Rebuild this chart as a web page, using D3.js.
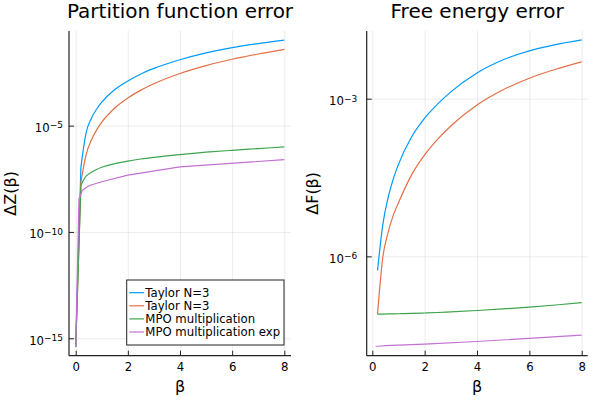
<!DOCTYPE html>
<html>
<head>
<meta charset="utf-8">
<script src="https://cdn.jsdelivr.net/npm/d3@7/dist/d3.min.js"></script>
<style>
  body { margin: 0; background: #fff; }
  text { font-family: "DejaVu Sans", sans-serif; fill: #000; }
</style>
</head>
<body>
<div id="chart"></div>
<script>
var svgWidth = 600;
var svgHeight = 400;

// β values of the Taylor and MPO multiplication runs
var betaGrid = [0, 0.2, 0.4, 0.6, 0.8, 1, 1.5, 2, 2.5, 3, 4, 5, 6, 7, 8];
// β values of the "exp" run (doubling steps)
var betaExp = [0, 0.125, 0.25, 0.5, 1, 2, 4, 8];

// log10 of ΔZ(β)
var dzTaylorA = [-15.4, -6.94, -5.33, -4.66, -4.23, -3.9, -3.3, -2.9, -2.57, -2.31, -1.9, -1.58, -1.33, -1.14, -0.98];
var dzTaylorB = [-15.4, -7.65, -6.36, -5.68, -5.21, -4.84, -4.17, -3.7, -3.33, -3.03, -2.55, -2.18, -1.88, -1.63, -1.41];
var dzMPO = [-15.4, -7.8, -7.38, -7.19, -7.06, -6.96, -6.79, -6.67, -6.57, -6.49, -6.36, -6.25, -6.16, -6.08, -6.0];
var dzMPOExp = [-15.4, -8.45, -8.05, -7.83, -7.64, -7.33, -6.94, -6.6];

// log10 of ΔF(β), nothing at β = 0
var dfTaylorA = [null, -6.27, -5.4, -4.89, -4.53, -4.25, -3.73, -3.37, -3.1, -2.87, -2.51, -2.26, -2.09, -1.97, -1.88];
var dfTaylorB = [null, -7.1, -6.02, -5.55, -5.22, -4.98, -4.45, -4.07, -3.77, -3.52, -3.12, -2.83, -2.61, -2.44, -2.3];
var dfMPO = [null, -7.1, -7.098, -7.096, -7.094, -7.092, -7.086, -7.078, -7.068, -7.056, -7.03, -7.0, -6.965, -6.925, -6.88];
var dfMPOExp = [null, -7.71, -7.71, -7.7, -7.69, -7.67, -7.62, -7.5];

var seriesNames = ["Taylor N=3", "Taylor N=3", "MPO multiplication", "MPO multiplication exp"];
var seriesColors = ["#009af9", "#e26f46", "#3da44d", "#c271d2"];

var betaTicks = [0, 2, 4, 6, 8];
var zTicks = [-15, -10, -5];
var fTicks = [-6, -3];

var svg = d3.select("#chart")
    .append("svg")
    .attr("width", svgWidth)
    .attr("height", svgHeight);

var panels = [
    {
        title: "Partition function error", ylabel: "ΔZ(β)",
        box: {left: 69, right: 291, top: 31, bottom: 355.7},
        xRange: [75.7, 284.3], yLog: [-15.82, -0.55], yTicks: zTicks, tickPad: 6, ylabelX: 16,
        series: [dzTaylorA, dzTaylorB, dzMPO, dzMPOExp], legend: true
    },
    {
        title: "Free energy error", ylabel: "ΔF(β)",
        box: {left: 366.7, right: 587.7, top: 31, bottom: 355.7},
        xRange: [372.3, 581.7], yLog: [-7.89, -1.712], yTicks: fTicks, tickPad: 9.5, ylabelX: 318,
        series: [dfTaylorA, dfTaylorB, dfMPO, dfMPOExp], legend: false
    }
];

panels.forEach(drawPanel);

function drawPanel(p) {
    var box = p.box;
    var xScale = d3.scaleLinear().domain([0, 8]).range(p.xRange);
    var yScale = d3.scaleLog()
        .domain(p.yLog.map(e => Math.pow(10, e)))
        .range([box.bottom, box.top]);
    var yTickValues = p.yTicks.map(e => Math.pow(10, e));

    var g = svg.append("g");

    // grid lines
    var gx = g.append("g")
        .attr("transform", `translate(0, ${box.top})`)
        .call(d3.axisBottom(xScale).tickValues(betaTicks).tickSize(box.bottom - box.top).tickFormat(""));
    var gy = g.append("g")
        .attr("transform", `translate(${box.right}, 0)`)
        .call(d3.axisLeft(yScale).tickValues(yTickValues).tickSize(box.right - box.left).tickFormat(""));
    [gx, gy].forEach(a => {
        a.select(".domain").remove();
        a.selectAll("line").attr("stroke", "#000").attr("stroke-opacity", 0.1).attr("stroke-width", 0.8);
    });

    // spines
    g.append("line")
        .attr("x1", box.left).attr("x2", box.left)
        .attr("y1", box.top).attr("y2", box.bottom)
        .attr("stroke", "#222").attr("stroke-width", 1.2);
    g.append("line")
        .attr("x1", box.left).attr("x2", box.right)
        .attr("y1", box.bottom).attr("y2", box.bottom)
        .attr("stroke", "#222").attr("stroke-width", 1.2);

    // x axis
    var xAxisG = g.append("g")
        .attr("transform", `translate(0, ${box.bottom})`)
        .call(d3.axisBottom(xScale).tickValues(betaTicks).tickSizeInner(-5).tickSizeOuter(0).tickPadding(7));
    xAxisG.select(".domain").remove();
    xAxisG.attr("font-family", null).attr("font-size", 11.7);
    xAxisG.selectAll("line").attr("stroke", "#222");

    // y axis with 10^n labels
    var yAxisG = g.append("g")
        .attr("transform", `translate(${box.left}, 0)`)
        .call(d3.axisLeft(yScale).tickValues(yTickValues).tickSizeInner(-5).tickSizeOuter(0)
            .tickPadding(p.tickPad).tickFormat(""));
    yAxisG.select(".domain").remove();
    yAxisG.attr("font-family", null).attr("font-size", 11.7);
    yAxisG.selectAll("line").attr("stroke", "#222");
    yAxisG.selectAll(".tick text").each(function(d) {
        var t = d3.select(this).attr("dy", "0.5em");
        t.append("tspan").text("10");
        t.append("tspan")
            .attr("dy", -3.5)
            .attr("font-size", 9)
            .text("\u2212" + Math.abs(Math.round(Math.log10(d))));
    });

    // series
    var line = d3.line()
        .x(d => xScale(d[0]))
        .y(d => yScale(Math.pow(10, d[1])));

    p.series.forEach((vals, i) => {
        var betas = vals.length === betaExp.length ? betaExp : betaGrid;
        var pts = betas.map((b, j) => [b, vals[j]]).filter(d => d[1] !== null);
        var color = seriesColors[i];
        if (betas === betaExp) {
            g.append("path").datum(pts)
                .attr("fill", "none").attr("stroke", color).attr("stroke-width", 1.2)
                .attr("d", line.curve(d3.curveLinear));
            return;
        }
        var start = 0;
        if (pts[0][0] === 0) {
            // straight jump from β = 0 to the first step
            g.append("path").datum(pts.slice(0, 2))
                .attr("fill", "none").attr("stroke", color).attr("stroke-width", 1.2)
                .attr("d", line.curve(d3.curveLinear));
            start = 1;
        }
        g.append("path").datum(pts.slice(start))
            .attr("fill", "none").attr("stroke", color).attr("stroke-width", 1.2)
            .attr("d", line.curve(d3.curveMonotoneX));
    });

    // titles and labels
    var cx = (box.left + box.right) / 2;
    g.append("text")
        .attr("x", cx).attr("y", 17.5)
        .attr("text-anchor", "middle").attr("font-size", 20)
        .text(p.title);
    g.append("text")
        .attr("x", cx).attr("y", 392)
        .attr("text-anchor", "middle").attr("font-size", 16)
        .text("β");
    g.append("text")
        .attr("transform", `translate(${p.ylabelX}, ${(box.top + box.bottom) / 2}) rotate(-90)`)
        .attr("text-anchor", "middle").attr("font-size", 16)
        .text(p.ylabel);

    if (p.legend) {
        var legend = g.append("g");
        legend.append("rect")
            .attr("x", 126.7).attr("y", 280)
            .attr("width", 157.3).attr("height", 65)
            .attr("fill", "#fff").attr("stroke", "#222").attr("stroke-width", 1);
        var rows = legend.selectAll(".row")
            .data(seriesNames)
            .enter()
            .append("g")
            .attr("transform", (d, i) => `translate(129.3, ${292.7 + i * 13.1})`);
        rows.append("line")
            .attr("x1", 0).attr("x2", 14.7)
            .attr("stroke", (d, i) => seriesColors[i])
            .attr("stroke-width", 1.2);
        rows.append("text")
            .attr("x", 16).attr("dy", "0.36em")
            .attr("font-size", 11.7)
            .text(d => d);
    }
}
</script>
</body>
</html>
